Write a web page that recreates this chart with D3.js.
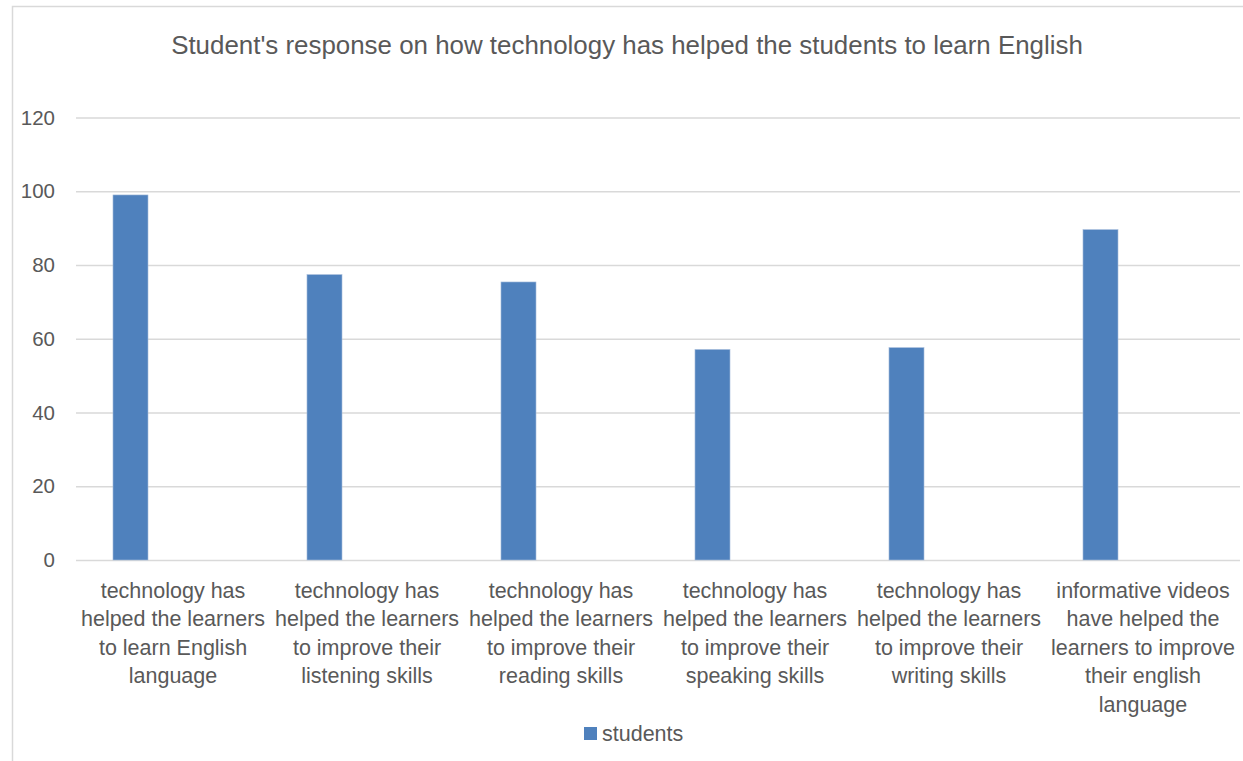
<!DOCTYPE html>
<html>
<head>
<meta charset="utf-8">
<script src="https://cdn.jsdelivr.net/npm/d3@7"></script>
<style>
  html, body { margin: 0; padding: 0; background: #fff; }
  svg { display: block; font-family: "Liberation Sans", Arial, sans-serif; }
</style>
</head>
<body>
<svg id="chart" width="1243" height="761"></svg>
<script>
// ---- data ----
const categories = [
  "technology has helped the learners to learn English language",
  "technology has helped the learners to improve their listening skills",
  "technology has helped the learners to improve their reading skills",
  "technology has helped the learners to improve their speaking skills",
  "technology has helped the learners to improve their writing skills",
  "informative videos have helped the learners to improve their english language"
];
const categoryLines = [
  ["technology has", "helped the learners", "to learn English", "language"],
  ["technology has", "helped the learners", "to improve their", "listening skills"],
  ["technology has", "helped the learners", "to improve their", "reading skills"],
  ["technology has", "helped the learners", "to improve their", "speaking skills"],
  ["technology has", "helped the learners", "to improve their", "writing skills"],
  ["informative videos", "have helped the", "learners to improve", "their english", "language"]
];
const seriesName = "students";
const studentsValues = [99, 77.4, 75.4, 57.1, 57.6, 89.6];
const yTicks = [0, 20, 40, 60, 80, 100, 120];
const titleText = "Student's response on how technology has helped the students to learn English";

// ---- layout ----
const svg = d3.select("#chart");
const W = 1243, H = 761;
const plot = { left: 76, right: 1240, top: 117.5, bottom: 560 };
const textColor = "#595959";
const gridColor = "#d9d9d9";
const barColor = "#4f81bd";
const labelSize = 21.5;

// outer chart border
svg.append("rect")
  .attr("x", 12.5).attr("y", 6.5)
  .attr("width", W).attr("height", H)
  .attr("fill", "none").attr("stroke", gridColor).attr("stroke-width", 1.5);

const x = d3.scaleBand().domain(categories).range([plot.left, plot.right]).padding(0);
// inner scale: the series slot inside each category
const xInner = d3.scaleBand()
  .domain([seriesName, "_empty"])
  .range([0, x.bandwidth()])
  .paddingInner(0.588)
  .paddingOuter(0.435);
const y = d3.scaleLinear().domain([0, 120]).range([plot.bottom, plot.top]);

// title
svg.append("text")
  .attr("x", 627).attr("y", 54)
  .attr("text-anchor", "middle")
  .attr("font-size", 25.9)
  .attr("fill", textColor)
  .text(titleText);

// y axis + gridlines
const yAxis = d3.axisLeft(y)
  .tickValues(yTicks)
  .tickSizeInner(-(plot.right - plot.left))
  .tickSizeOuter(0)
  .tickPadding(21)
  .tickFormat(d3.format("d"));
const gy = svg.append("g")
  .attr("transform", `translate(${plot.left},0)`)
  .call(yAxis);
gy.select(".domain").remove();
gy.selectAll(".tick line").attr("stroke", gridColor).attr("stroke-width", 1.5);
gy.selectAll(".tick text")
  .attr("font-size", 20.5)
  .attr("font-family", "Liberation Sans, Arial, sans-serif")
  .attr("fill", textColor);

// bars
svg.append("g").selectAll("rect")
  .data(categories.map((c, i) => ({ c, v: studentsValues[i] })))
  .join("rect")
  .attr("x", d => x(d.c) + xInner(seriesName))
  .attr("width", xInner.bandwidth())
  .attr("y", d => y(d.v))
  .attr("height", d => y(0) - y(d.v))
  .attr("fill", barColor)
  .attr("stroke", "#a9bfdc")
  .attr("stroke-width", 0.6);

// x axis labels
const xAxis = d3.axisBottom(x).tickSize(0).tickPadding(0);
const gx = svg.append("g")
  .attr("transform", `translate(0,${plot.bottom})`)
  .call(xAxis);
gx.select(".domain").remove();
gx.selectAll(".tick text").each(function(d, i) {
  const t = d3.select(this);
  t.text(null)
    .attr("y", 0)
    .attr("dy", null)
    .attr("font-size", labelSize)
    .attr("font-family", "Liberation Sans, Arial, sans-serif")
    .attr("fill", textColor);
  categoryLines[i].forEach((line, k) => {
    t.append("tspan")
      .attr("x", 0)
      .attr("y", 37.5 + k * 28.5)
      .text(line);
  });
});

// legend
const lg = svg.append("g").attr("transform", "translate(584,727)");
lg.append("rect").attr("width", 13).attr("height", 13).attr("fill", barColor);
lg.append("text").attr("x", 18).attr("y", 13.5)
  .attr("font-size", labelSize).attr("fill", textColor).text(seriesName);
</script>
</body>
</html>
